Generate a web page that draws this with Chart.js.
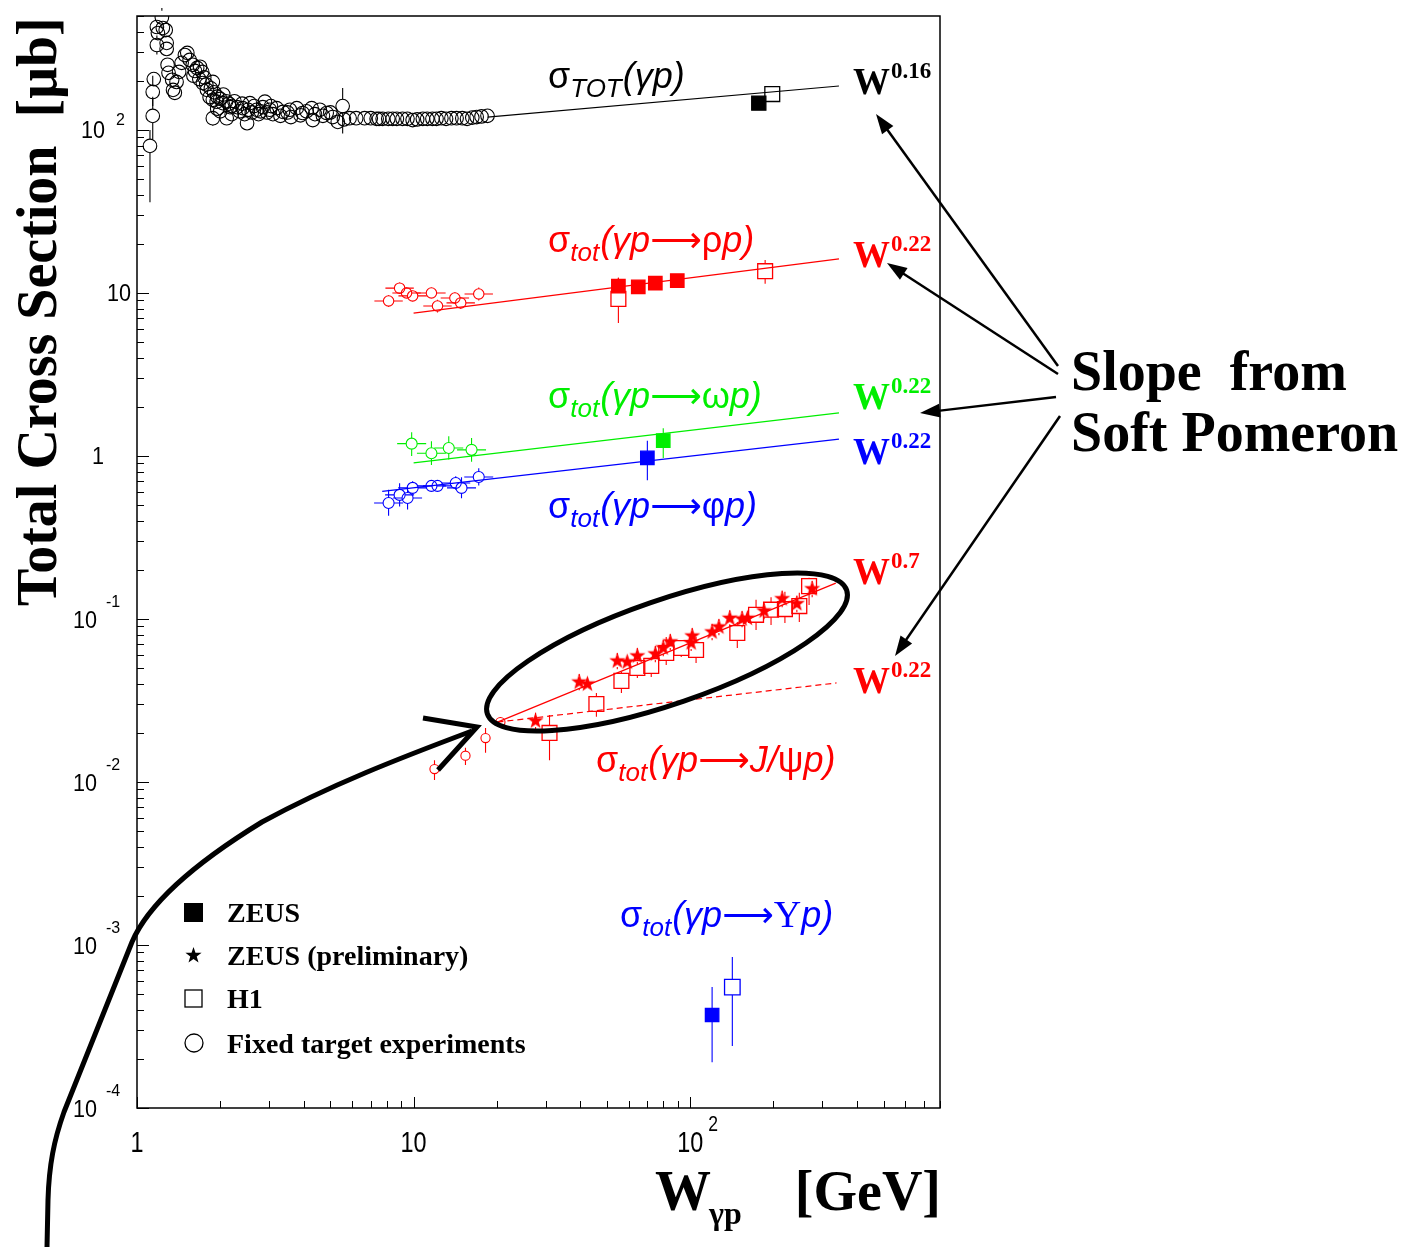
<!DOCTYPE html>
<html>
<head>
<meta charset="utf-8">
<script src="https://cdn.jsdelivr.net/npm/chart.js@4.4.1/dist/chart.umd.min.js"></script>
<style>
  html, body { margin: 0; background: #fff; }
  canvas { display: block; }
</style>
</head>
<body>
<canvas id="chart" width="1404" height="1247"></canvas>
<script>
// points are [W (GeV), sigma (µb), errLow, errHigh] ; errors optional
const totalFixed = [
  [1.114,79.8,36,100],[1.14,121.9,88,160],[1.14,171,140,215],[1.15,205],[1.18,332,290,380],[1.18,428],[1.19,393],
  [1.23,490,420,560],[1.24,422],[1.27,410],[1.28,342],[1.28,314],[1.29,251],[1.30,224],[1.34,203],[1.35,176],
  [1.37,169],[1.39,197],[1.42,227],[1.45,258],[1.49,288],[1.52,297],[1.55,269],[1.59,251],[1.60,215],[1.62,230],
  [1.65,240],[1.68,205],[1.69,244],[1.72,227],[1.73,194],[1.75,210],[1.78,190],[1.79,176],[1.83,159],[1.85,180],
  [1.88,153],[1.88,197],[1.88,118,106,128],[1.90,170],[1.94,149],[1.95,160],[1.95,135],[2.00,155],[2.00,130],
  [2.04,146],[2.05,165],[2.10,150],[2.11,118,108,128],[2.15,145],[2.17,138],[2.20,140],[2.20,125],[2.25,150],
  [2.30,138],[2.35,130],[2.40,145],[2.41,136],[2.45,125],[2.50,110,100,122],[2.52,133],[2.56,146],[2.60,128],
  [2.65,140],[2.71,133],[2.75,125],[2.80,130],[2.85,138],[2.90,149],[2.95,128],[3.02,133],[3.05,140],[3.10,125],
  [3.20,136],[3.30,122],[3.37,129],[3.50,128],[3.57,133],[3.60,120],[3.78,136],[3.90,123],[3.97,127],[4.10,130],
  [4.28,136],[4.32,115],[4.40,125],[4.58,133],[4.70,122],[4.85,127],[5.00,128],[5.10,120],[5.32,112],
  [5.54,140,95,181],[5.60,116],[5.87,118],[6.20,118],[6.65,118],[7.00,118],[7.35,117],[7.50,117],[7.73,117],
  [8.10,117],[8.40,117],[8.70,117],[9.12,117],[9.50,117],[9.92,115],[10.3,116],[10.8,117],[11.2,117],[11.7,117],
  [12.1,117],[12.6,118],[13.1,117],[13.7,118],[14.3,118],[15.0,118],[15.6,117],[16.3,119],[16.9,120],[17.6,121],[18.5,122]
];
const totalZeus = [[177,146,138,154]];
const totalH1 = [[198,166,155,177]];
const totalFit = [[18.5,120],[345,186]];

const rhoFixed = [[8.12,8.93,8.2,9.7],[8.90,10.7,9.9,11.6],[9.43,10.0,9.3,10.8],[9.92,9.59,8.9,10.3],[11.6,10.0,9.3,10.8],
  [12.2,8.32,7.6,9.1],[14.1,9.31,8.6,10.1],[14.8,8.69,8.0,9.4],[17.2,9.86,9.0,10.8]];
const rhoZeus = [[55.0,11.0,10.0,12.4],[64.9,10.9],[74.8,11.5],[89.8,11.9]];
const rhoH1 = [[55.0,9.19,6.55,12.4],[186.6,13.6,11.4,15.9]];
const rhoFit = [[10,7.53],[345,16.2]];

const omegaFixed = [[9.84,1.19,1.0,1.4],[11.6,1.04,0.88,1.23],[13.4,1.12,0.95,1.32],[16.2,1.09,0.92,1.29]];
const omegaZeus = [[79.9,1.24,0.97,1.48]];
const omegaFit = [[10,0.906],[345,1.84]];

const phiFixed = [[8.12,0.515,0.43,0.62],[8.90,0.577,0.49,0.68],[9.51,0.552,0.47,0.65],[9.92,0.637,0.58,0.70],
  [11.6,0.655,0.61,0.70],[12.2,0.655,0.61,0.70],[14.2,0.683,0.62,0.75],[14.9,0.637,0.55,0.74],[17.2,0.743,0.66,0.84]];
const phiZeus = [[70.0,0.973,0.71,1.24]];
const phiFit = [[7.7,0.607],[345,1.27]];

const jpsiFixed = [[11.9,0.0120,0.0103,0.0136],[15.4,0.0145,0.0127,0.0162],[18.2,0.0186,0.0151,0.0214],[20.6,0.0233]];
const jpsiZeusPrel = [[27.6,0.0237,0.0211,0.0266],[39.7,0.0410,0.0365,0.0459],[42.5,0.0399],[54.5,0.0552,0.0491,0.0618],
  [59.2,0.0545],[64.4,0.0593,0.0528,0.0664],[74.8,0.0610,0.0543,0.0683],[79.9,0.0664,0.0591,0.0744],
  [84.7,0.0723,0.0643,0.0810],[100.8,0.0713,0.0635,0.0799],[101.7,0.0786,0.0700,0.0880],[120,0.0832,0.0740,0.0932],
  [127,0.0893,0.0795,0.100],[139,0.101,0.0899,0.113],[154,0.100,0.089,0.112],[161,0.101],[185,0.112,0.0997,0.125],
  [215,0.133,0.118,0.149],[243,0.124,0.110,0.139],[276,0.153,0.136,0.171]];
const jpsiH1 = [[31.0,0.0200,0.0136,0.0258],[45.8,0.0301,0.0251,0.0352],[56.4,0.0417,0.0352,0.0473],
  [64.4,0.0500,0.0435,0.0585],[72.3,0.0515,0.0441,0.0585],[81.9,0.0618,0.0522,0.0776],[92.8,0.0664,0.0585,0.0743],
  [105,0.0645,0.0537,0.0776],[148,0.0820,0.0664,0.0959],[173,0.106,0.0857,0.131],[196,0.114,0.0918,0.136],
  [220,0.115,0.0945,0.147],[248,0.120,0.0959,0.145],[269,0.159,0.122,0.179]];
const jpsiFitHard = [[20.1,0.0233],[336,0.166]];
const jpsiFitSoft = [[20.1,0.0233],[338,0.0405]];

const upsZeus = [[120,3.72e-4,1.91e-4,5.52e-4]];
const upsH1 = [[142,5.52e-4,2.40e-4,8.43e-4]];

const yDecades = [-4, -3, -2, -1, 0, 1, 2];
const xDecades = [0, 1, 2];

const RED = '#ff0000', GREEN = '#00ee00', BLUE = '#0000ff', BLACK = '#000000';

function pts(arr) { return arr.map(p => ({ x: p[0], y: p[1] })); }

function starImg(color, R) {
  const c = document.createElement('canvas');
  const s = Math.ceil(R * 2 + 2);
  c.width = c.height = s;
  const g = c.getContext('2d');
  g.fillStyle = color;
  g.beginPath();
  for (let i = 0; i < 10; i++) {
    const a = -Math.PI / 2 + i * Math.PI / 5;
    const r = i % 2 ? R * 0.4 : R;
    g.lineTo(s / 2 + r * Math.cos(a), s / 2 + r * Math.sin(a));
  }
  g.closePath();
  g.fill();
  return c;
}

function lineSet(arr, color, dash) {
  return { data: pts(arr), showLine: true, pointRadius: 0, borderColor: color, borderWidth: 1.2,
           borderDash: dash || [], order: 10, err: null };
}
function circleSet(arr, color, r, hbar) {
  return { data: pts(arr), pointStyle: 'circle', pointRadius: r, borderColor: color, borderWidth: 1.1,
           backgroundColor: 'rgba(0,0,0,0)', err: arr, errColor: color, gap: r, hbar: hbar || 0 };
}
function boxSet(arr, color, r, filled) {
  return { data: pts(arr), pointStyle: 'rect', pointRadius: r, borderColor: color, borderWidth: 1.3,
           backgroundColor: filled ? color : 'rgba(0,0,0,0)', err: arr, errColor: color, gap: r * 0.72 };
}
function starSet(arr, color) {
  return { data: pts(arr), pointStyle: starImg(color, 8.5), pointRadius: 8, err: arr, errColor: color, gap: 6 };
}

const datasets = [
  lineSet(totalFit, BLACK), lineSet(rhoFit, RED), lineSet(omegaFit, GREEN), lineSet(phiFit, BLUE),
  lineSet(jpsiFitHard, RED), lineSet(jpsiFitSoft, RED, [6, 4]),
  circleSet(totalFixed, BLACK, 6.8),
  boxSet(totalZeus, BLACK, 10, true), boxSet(totalH1, BLACK, 10.5, false),
  circleSet(rhoFixed, RED, 5.2, 9), boxSet(rhoZeus, RED, 9.5, true), boxSet(rhoH1, RED, 10.5, false),
  circleSet(omegaFixed, GREEN, 5.5, 9), boxSet(omegaZeus, GREEN, 9.5, true),
  circleSet(phiFixed, BLUE, 5.5, 9), boxSet(phiZeus, BLUE, 9.5, true),
  circleSet(jpsiFixed, RED, 4.6), starSet(jpsiZeusPrel, RED), boxSet(jpsiH1, RED, 10.5, false),
  boxSet(upsZeus, BLUE, 9.5, true), boxSet(upsH1, BLUE, 11, false)
];

function rich(ctx, x, y, parts, color) {
  ctx.fillStyle = color;
  ctx.textAlign = 'left';
  ctx.textBaseline = 'alphabetic';
  let cx = x;
  parts.forEach(p => {
    ctx.font = p[1];
    ctx.fillText(p[0], cx, y + (p[2] || 0));
    cx += ctx.measureText(p[0]).width + (p[3] || 0);
  });
}

function sText(ctx, str, x, y, font, sx, align) {
  ctx.save();
  ctx.font = font;
  const w = ctx.measureText(str).width * sx;
  const x0 = align === 'right' ? x - w : align === 'center' ? x - w / 2 : x;
  ctx.translate(x0, y);
  ctx.scale(sx, 1);
  ctx.textAlign = 'left';
  ctx.fillText(str, 0, 0);
  ctx.restore();
}

function arrow(ctx, x0, y0, x1, y1) {
  const a = Math.atan2(y1 - y0, x1 - x0);
  const L = 20, H = 7;
  ctx.beginPath();
  ctx.moveTo(x0, y0);
  ctx.lineTo(x1 - L * 0.8 * Math.cos(a), y1 - L * 0.8 * Math.sin(a));
  ctx.stroke();
  ctx.beginPath();
  ctx.moveTo(x1, y1);
  ctx.lineTo(x1 - L * Math.cos(a) + H * Math.sin(a), y1 - L * Math.sin(a) - H * Math.cos(a));
  ctx.lineTo(x1 - L * Math.cos(a) - H * Math.sin(a), y1 - L * Math.sin(a) + H * Math.cos(a));
  ctx.closePath();
  ctx.fill();
}

const SANS = '"Liberation Sans", Arial, sans-serif';
const SERIF = '"Liberation Serif", "Times New Roman", serif';

function sigmaLabel(ctx, x, y, sub, reaction, color) {
  const parts = [['σ', '36px ' + SANS], [sub, 'italic 26px ' + SANS, 9, 1]];
  reaction.forEach(r => parts.push(r));
  rich(ctx, x, y, parts, color);
}
const IT = 'italic 36px ' + SANS, UP = '36px ' + SANS, ARR = '36px "DejaVu Sans"';

function wLabel(ctx, x, y, exp, color) {
  rich(ctx, x, y, [['W', 'bold 37px ' + SERIF, 0, 1], [exp, 'bold 23px ' + SERIF, -16]], color);
}

const overlay = {
  id: 'overlay',
  beforeDatasetsDraw(chart) {
    const ctx = chart.ctx, xs = chart.scales.x, ys = chart.scales.y;
    ctx.save();
    ctx.lineWidth = 1.1;
    chart.data.datasets.forEach(ds => {
      if (!ds.err) return;
      ctx.strokeStyle = ds.errColor;
      ds.err.forEach(p => {
        const px = xs.getPixelForValue(p[0]), py = ys.getPixelForValue(p[1]);
        ctx.beginPath();
        if (p.length > 2) {
          const pl = ys.getPixelForValue(p[2]), ph = ys.getPixelForValue(p[3]);
          if (ph < py - ds.gap) { ctx.moveTo(px, py - ds.gap); ctx.lineTo(px, ph); }
          if (pl > py + ds.gap) { ctx.moveTo(px, py + ds.gap); ctx.lineTo(px, pl); }
        }
        if (ds.hbar) {
          ctx.moveTo(px - ds.gap - ds.hbar, py); ctx.lineTo(px - ds.gap, py);
          ctx.moveTo(px + ds.gap, py); ctx.lineTo(px + ds.gap + ds.hbar, py);
        }
        ctx.stroke();
      });
    });
    ctx.restore();
  },
  afterDraw(chart) {
    const ctx = chart.ctx, xs = chart.scales.x, ys = chart.scales.y, a = chart.chartArea;
    ctx.save();
    // frame
    ctx.strokeStyle = BLACK;
    ctx.lineWidth = 1.5;
    ctx.strokeRect(a.left, a.top, a.right - a.left, a.bottom - a.top);
    // ticks
    ctx.lineWidth = 1;
    ctx.beginPath();
    xDecades.forEach(d => {
      for (let k = 1; k <= 9; k++) {
        const v = k * Math.pow(10, d);
        if (v > xs.max) break;
        const px = Math.round(xs.getPixelForValue(v)) + 0.5;
        ctx.moveTo(px, a.bottom);
        ctx.lineTo(px, a.bottom - (k === 1 ? 11 : 7));
      }
    });
    yDecades.forEach(d => {
      for (let k = 1; k <= 9; k++) {
        const v = k * Math.pow(10, d);
        if (v > ys.max) break;
        const py = Math.round(ys.getPixelForValue(v)) + 0.5;
        ctx.moveTo(a.left, py);
        ctx.lineTo(a.left + (k === 1 ? 12 : 7), py);
      }
    });
    ctx.stroke();

    // tick labels
    ctx.fillStyle = BLACK;
    const TF = '24px ' + SANS, EF = '16px ' + SANS;
    yDecades.forEach(d => {
      const py = ys.getPixelForValue(Math.pow(10, d));
      if (d === 0) sText(ctx, '1', 104, py + 8, TF, 0.9, 'right');
      else if (d === 1) sText(ctx, '10', 131, py + 8, TF, 0.9, 'right');
      else if (d === 2) { sText(ctx, '10', 105, py + 8, TF, 0.9, 'right'); sText(ctx, '2', 116, py - 5, EF, 1, 'left'); }
      else { sText(ctx, '10', 97, py + 9, TF, 0.9, 'right'); sText(ctx, String(d), 106, py - 12, EF, 1, 'left'); }
    });
    const XF = '30px ' + SANS;
    xDecades.forEach(d => {
      const px = xs.getPixelForValue(Math.pow(10, d));
      if (d === 0) sText(ctx, '1', px, 1152, XF, 0.78, 'center');
      else if (d === 1) sText(ctx, '10', px, 1152, XF, 0.78, 'center');
      else { sText(ctx, '10', px, 1152, XF, 0.78, 'center'); sText(ctx, String(d), px + 18, 1131, '22px ' + SANS, 0.8, 'left'); }
    });

    // axis titles
    ctx.save();
    ctx.translate(56, 606);
    ctx.rotate(-Math.PI / 2);
    ctx.font = 'bold 56px ' + SERIF;
    ctx.fillText('Total Cross Section  [μb]', 0, 0);
    ctx.restore();
    rich(ctx, 655, 1210, [['W', 'bold 56px ' + SERIF, 0, -2], ['γp', 'bold 32px ' + SERIF, 14]], BLACK);
    ctx.font = 'bold 56px ' + SERIF;
    ctx.textAlign = 'right';
    ctx.fillText('[GeV]', 941, 1210);
    ctx.textAlign = 'left';

    // reaction labels
    sigmaLabel(ctx, 548, 88, 'TOT', [['(γp)', IT]], BLACK);
    sigmaLabel(ctx, 548, 252, 'tot', [['(γp', IT], ['⟶', ARR], ['ρ', UP], ['p)', IT]], RED);
    sigmaLabel(ctx, 548, 408, 'tot', [['(γp', IT], ['⟶', ARR], ['ω', UP], ['p)', IT]], GREEN);
    sigmaLabel(ctx, 548, 518, 'tot', [['(γp', IT], ['⟶', ARR], ['φ', UP], ['p)', IT]], BLUE);
    sigmaLabel(ctx, 596, 772, 'tot', [['(γp', IT], ['⟶', ARR], ['J/', IT], ['ψ', UP], ['p)', IT]], RED);
    sigmaLabel(ctx, 620, 927, 'tot', [['(γp', IT], ['⟶', ARR], ['Υ', '38px ' + SERIF], ['p)', IT]], BLUE);

    wLabel(ctx, 853, 94, '0.16', BLACK);
    wLabel(ctx, 853, 267, '0.22', RED);
    wLabel(ctx, 853, 409, '0.22', GREEN);
    wLabel(ctx, 853, 464, '0.22', BLUE);
    wLabel(ctx, 853, 584, '0.7', RED);
    wLabel(ctx, 853, 693, '0.22', RED);

    // "Slope from Soft Pomeron"
    ctx.fillStyle = BLACK;
    ctx.font = 'bold 56px ' + SERIF;
    ctx.fillText('Slope  from', 1071, 390);
    ctx.fillText('Soft Pomeron', 1071, 451);

    ctx.strokeStyle = BLACK;
    ctx.fillStyle = BLACK;
    ctx.lineWidth = 2.5;
    arrow(ctx, 1058, 366, 876, 114);
    arrow(ctx, 1058, 374, 887, 263);
    arrow(ctx, 1056, 397, 920, 413);
    arrow(ctx, 1060, 416, 895, 656);

    // ellipse round the J/psi points
    ctx.lineWidth = 5;
    ctx.beginPath();
    ctx.ellipse(667, 652, 190, 52, -19 * Math.PI / 180, 0, 2 * Math.PI);
    ctx.stroke();

    // big curved arrow
    ctx.lineWidth = 5;
    ctx.lineJoin = 'miter';
    ctx.beginPath();
    ctx.moveTo(47, 1247);
    ctx.lineTo(48, 1200);
    ctx.bezierCurveTo(49, 1165, 54, 1140, 64, 1112);
    ctx.lineTo(132, 942);
    ctx.bezierCurveTo(150, 900, 200, 860, 262, 822);
    ctx.bezierCurveTo(330, 785, 400, 758, 472, 731);
    ctx.stroke();
    ctx.beginPath();
    ctx.moveTo(423, 718);
    ctx.lineTo(477, 727);
    ctx.lineTo(438, 770);
    ctx.stroke();

    // legend
    ctx.lineWidth = 1.3;
    ctx.fillRect(184, 903, 19, 19);
    ctx.drawImage(starImg(BLACK, 8.5), 184, 946);
    ctx.strokeRect(185, 990, 17, 17);
    ctx.beginPath();
    ctx.arc(194, 1043, 9, 0, 2 * Math.PI);
    ctx.stroke();
    ctx.font = 'bold 28px ' + SERIF;
    ctx.fillText('ZEUS', 227, 922);
    ctx.fillText('ZEUS (preliminary)', 227, 965);
    ctx.fillText('H1', 227, 1008);
    ctx.fillText('Fixed target experiments', 227, 1053);
    ctx.restore();
  }
};

new Chart(document.getElementById('chart'), {
  type: 'scatter',
  data: { datasets },
  options: {
    responsive: false,
    animation: false,
    events: [],
    layout: { autoPadding: false, padding: { left: 137, right: 464, top: 16, bottom: 139 } },
    plugins: { legend: { display: false }, tooltip: { enabled: false } },
    scales: {
      x: { type: 'logarithmic', min: 1, max: 800, ticks: { display: false },
           grid: { display: false, drawTicks: false }, border: { display: false } },
      y: { type: 'logarithmic', min: 1e-4, max: 500, ticks: { display: false },
           grid: { display: false, drawTicks: false }, border: { display: false } }
    }
  },
  plugins: [overlay]
});
</script>
</body>
</html>
